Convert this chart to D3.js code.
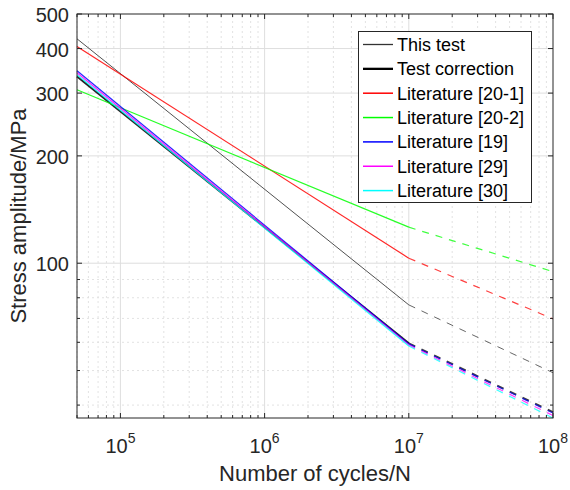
<!DOCTYPE html>
<html>
<head>
<meta charset="utf-8">
<script src="https://cdn.jsdelivr.net/npm/d3@7"></script>
<style>
  html, body { margin: 0; padding: 0; background: #fff; }
  svg { display: block; font-family: "Liberation Sans", Arial, Helvetica, sans-serif; }
</style>
</head>
<body>
<svg id="chart" width="570" height="490"></svg>
<script>
// S-N curves: stress amplitude vs. number of cycles (log-log)
const cycles = [5e4, 1e7, 1e8];          // knee at 1e7, dashed beyond
const seriesNames = ["This test", "Test correction", "Literature [20-1]", "Literature [20-2]",
                     "Literature [19]", "Literature [29]", "Literature [30]"];
const thisTest       = [426, 76.4, 49.3];
const testCorrection = [334, 59.6, 38.2];
const lit20_1        = [405.6, 103.3, 69.8];
const lit20_2        = [306.6, 126.2, 94.7];
const lit19          = [346.6, 59.4, 38.0];
const lit29          = [342, 59.0, 37.4];
const lit30          = [337.8, 58.6, 36.8];
const seriesColors = ["#333333", "#000000", "#ff0000", "#00ff00", "#0000ff", "#ff00ff", "#00ffff"];
const seriesWidths = [1, 2, 1.2, 1.2, 1.2, 1.2, 1.2];

const xTickValues = [1e5, 1e6, 1e7, 1e8];
const xTickExponents = ["5", "6", "7", "8"];
const yTickValues = [100, 200, 300, 400, 500];
const yTickLabels = ["100", "200", "300", "400", "500"];
const xLabel = "Number of cycles/N";
const yLabel = "Stress amplitude/MPa";

const seriesValues = [thisTest, testCorrection, lit20_1, lit20_2, lit19, lit29, lit30];

const margin = { left: 77, top: 14, right: 17, bottom: 72 };
const W = 570, H = 490;
const svg = d3.select("#chart");

const yMin = d3.min(seriesValues, s => d3.min(s));
const x = d3.scaleLog().domain([cycles[0], cycles[cycles.length - 1]])
  .range([margin.left, W - margin.right]);
const y = d3.scaleLog().domain([yMin, 500])
  .range([H - margin.bottom, margin.top]);

const x0 = x.range()[0], x1 = x.range()[1];
const y0 = y.range()[0], y1 = y.range()[1];
const axisColor = "#262626";

// minor grid values (2..9 x 10^n inside the domain, excluding the major ticks)
const xMinor = [];
for (let d = 4; d <= 7; d++) for (let k = 2; k <= 9; k++) {
  const v = k * Math.pow(10, d);
  if (v >= x.domain()[0] && v <= x.domain()[1] && !xTickValues.includes(v)) xMinor.push(v);
}
const yMinor = [];
for (let d = 1; d <= 2; d++) for (let k = 1; k <= 9; k++) {
  const v = k * Math.pow(10, d);
  if (v >= y.domain()[0] && v <= y.domain()[1] && !yTickValues.includes(v)) yMinor.push(v);
}

const grid = svg.append("g");
grid.selectAll(".xminor").data(xMinor).join("line")
  .attr("x1", d => x(d)).attr("x2", d => x(d)).attr("y1", y0).attr("y2", y1)
  .attr("stroke", "#dadada").attr("stroke-width", 0.8).attr("stroke-dasharray", "2,3");
grid.selectAll(".yminor").data(yMinor).join("line")
  .attr("y1", d => y(d)).attr("y2", d => y(d)).attr("x1", x0).attr("x2", x1)
  .attr("stroke", "#dadada").attr("stroke-width", 0.8).attr("stroke-dasharray", "2,3");
grid.selectAll(".xmajor").data(xTickValues.filter(v => x(v) < x1 - 1)).join("line")
  .attr("x1", d => x(d)).attr("x2", d => x(d)).attr("y1", y0).attr("y2", y1)
  .attr("stroke", "#dedede").attr("stroke-width", 1);
grid.selectAll(".ymajor").data(yTickValues.filter(v => y(v) > y1 + 1)).join("line")
  .attr("y1", d => y(d)).attr("y2", d => y(d)).attr("x1", x0).attr("x2", x1)
  .attr("stroke", "#dedede").attr("stroke-width", 1);

// curves: solid up to the knee, dashed afterwards
const line = d3.line().x(d => x(d[0])).y(d => y(d[1]));
const curves = svg.append("g").attr("fill", "none");
seriesValues.forEach((vals, i) => {
  const pts = cycles.map((c, j) => [c, vals[j]]);
  curves.append("path").attr("d", line(pts.slice(0, 2)))
    .attr("stroke", seriesColors[i]).attr("stroke-width", seriesWidths[i])
    .attr("stroke-opacity", 0.85);
  curves.append("path").attr("d", line(pts.slice(1)))
    .attr("stroke", seriesColors[i]).attr("stroke-width", seriesWidths[i])
    .attr("stroke-opacity", 0.75).attr("stroke-dasharray", "7,7");
});

// axes box with inward ticks on all four sides
const axes = svg.append("g").attr("stroke", axisColor).attr("stroke-width", 1);
axes.append("rect").attr("x", x0).attr("y", y1).attr("width", x1 - x0).attr("height", y0 - y1)
  .attr("fill", "none");
const xt = [...xTickValues.map(v => [v, 5]), ...xMinor.map(v => [v, 3])];
const yt = [...yTickValues.map(v => [v, 5]), ...yMinor.map(v => [v, 3])];
axes.selectAll(".xtb").data(xt).join("line")
  .attr("x1", d => x(d[0])).attr("x2", d => x(d[0])).attr("y1", y0).attr("y2", d => y0 - d[1]);
axes.selectAll(".xtt").data(xt).join("line")
  .attr("x1", d => x(d[0])).attr("x2", d => x(d[0])).attr("y1", y1).attr("y2", d => y1 + d[1]);
axes.selectAll(".ytl").data(yt).join("line")
  .attr("y1", d => y(d[0])).attr("y2", d => y(d[0])).attr("x1", x0).attr("x2", d => x0 + d[1]);
axes.selectAll(".ytr").data(yt).join("line")
  .attr("y1", d => y(d[0])).attr("y2", d => y(d[0])).attr("x1", x1).attr("x2", d => x1 - d[1]);

// tick labels
const xl = svg.append("g").attr("fill", axisColor);
xTickValues.forEach((v, i) => {
  const t = xl.append("text").attr("x", x(v)).attr("y", y0 + 35)
    .attr("text-anchor", "middle").attr("font-size", 20);
  t.append("tspan").text("10");
  t.append("tspan").attr("font-size", 14).attr("dy", -10).text(xTickExponents[i]);
});
svg.append("g").attr("fill", axisColor).selectAll("text").data(yTickValues).join("text")
  .attr("x", x0 - 8).attr("y", d => y(d) + 8)
  .attr("text-anchor", "end").attr("font-size", 20)
  .text((d, i) => yTickLabels[i]);

// axis titles
svg.append("text").attr("x", (x0 + x1) / 2).attr("y", 481)
  .attr("text-anchor", "middle").attr("font-size", 22).attr("fill", axisColor).text(xLabel);
svg.append("text").attr("transform", `translate(26,${(y0 + y1) / 2}) rotate(-90)`)
  .attr("text-anchor", "middle").attr("font-size", 22).attr("fill", axisColor).text(yLabel);

// legend
const lg = svg.append("g");
lg.append("rect").attr("x", 358.5).attr("y", 31.5).attr("width", 173).attr("height", 171)
  .attr("fill", "#fff").attr("stroke", axisColor).attr("stroke-width", 1);
seriesNames.forEach((name, i) => {
  const ly = 44.5 + 24.35 * i;
  lg.append("line").attr("x1", 363).attr("x2", 393).attr("y1", ly).attr("y2", ly)
    .attr("stroke", seriesColors[i]).attr("stroke-width", seriesWidths[i] + 0.3);
  lg.append("text").attr("x", 397).attr("y", ly + 6.5).attr("font-size", 18)
    .attr("fill", "#000").text(name);
});
</script>
</body>
</html>
